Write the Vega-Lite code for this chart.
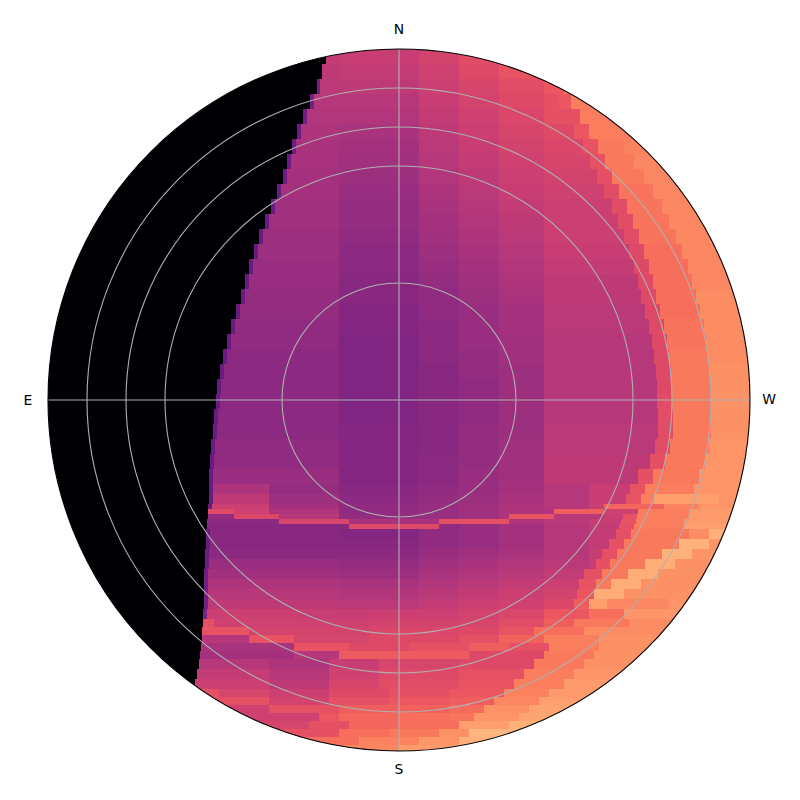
{"$schema":"https://vega.github.io/schema/vega-lite/v6.json","width":800,"height":800,"autosize":"none","padding":0,"background":"white","view":{"stroke":null},
"datasets":{"cells":[
{"y":351,"y2":336,"x":-101,"x2":-73,"v":0},{"y":351,"y2":336,"x":-73,"x2":-60,"v":53},{"y":351,"y2":336,"x":-60,"x2":20,"v":54},{"y":351,"y2":336,"x":20,"x2":60,"v":57},{"y":351,"y2":336,"x":60,"x2":101,"v":61},
{"y":336,"y2":321,"x":-142,"x2":-77,"v":0},{"y":336,"y2":321,"x":-77,"x2":-60,"v":52},{"y":336,"y2":321,"x":-60,"x2":20,"v":53},{"y":336,"y2":321,"x":20,"x2":60,"v":56},{"y":336,"y2":321,"x":60,"x2":100,"v":60},{"y":336,"y2":321,"x":100,"x2":142,"v":63},
{"y":321,"y2":306,"x":-172,"x2":-82,"v":0},{"y":321,"y2":306,"x":-82,"x2":-79,"v":34},{"y":321,"y2":306,"x":-79,"x2":-60,"v":51},{"y":321,"y2":306,"x":-60,"x2":20,"v":52},{"y":321,"y2":306,"x":20,"x2":60,"v":55},{"y":321,"y2":306,"x":60,"x2":100,"v":58},{"y":321,"y2":306,"x":100,"x2":145,"v":61},{"y":321,"y2":306,"x":145,"x2":165,"v":64},{"y":321,"y2":306,"x":165,"x2":172,"v":72},
{"y":306,"y2":291,"x":-196,"x2":-89,"v":0},{"y":306,"y2":291,"x":-89,"x2":-85,"v":33},{"y":306,"y2":291,"x":-85,"x2":-60,"v":50},{"y":306,"y2":291,"x":-60,"x2":20,"v":50},{"y":306,"y2":291,"x":20,"x2":60,"v":54},{"y":306,"y2":291,"x":60,"x2":100,"v":57},{"y":306,"y2":291,"x":100,"x2":145,"v":60},{"y":306,"y2":291,"x":145,"x2":160,"v":62},{"y":306,"y2":291,"x":160,"x2":172,"v":64},{"y":306,"y2":291,"x":172,"x2":196,"v":73},
{"y":291,"y2":276,"x":-217,"x2":-96,"v":0},{"y":291,"y2":276,"x":-96,"x2":-92,"v":33},{"y":291,"y2":276,"x":-92,"x2":-60,"v":49},{"y":291,"y2":276,"x":-60,"x2":20,"v":49},{"y":291,"y2":276,"x":20,"x2":60,"v":53},{"y":291,"y2":276,"x":60,"x2":100,"v":56},{"y":291,"y2":276,"x":100,"x2":145,"v":59},{"y":291,"y2":276,"x":145,"x2":181,"v":62},{"y":291,"y2":276,"x":181,"x2":217,"v":73},
{"y":276,"y2":261,"x":-235,"x2":-102,"v":0},{"y":276,"y2":261,"x":-102,"x2":-98,"v":32},{"y":276,"y2":261,"x":-98,"x2":-60,"v":48},{"y":276,"y2":261,"x":-60,"x2":20,"v":47},{"y":276,"y2":261,"x":20,"x2":60,"v":52},{"y":276,"y2":261,"x":60,"x2":100,"v":55},{"y":276,"y2":261,"x":100,"x2":145,"v":58},{"y":276,"y2":261,"x":145,"x2":175,"v":60},{"y":276,"y2":261,"x":175,"x2":190,"v":64},{"y":276,"y2":261,"x":190,"x2":235,"v":73},
{"y":261,"y2":246,"x":-250,"x2":-107,"v":0},{"y":261,"y2":246,"x":-107,"x2":-103,"v":32},{"y":261,"y2":246,"x":-103,"x2":-60,"v":47},{"y":261,"y2":246,"x":-60,"x2":20,"v":46},{"y":261,"y2":246,"x":20,"x2":60,"v":51},{"y":261,"y2":246,"x":60,"x2":100,"v":54},{"y":261,"y2":246,"x":100,"x2":145,"v":57},{"y":261,"y2":246,"x":145,"x2":184,"v":59},{"y":261,"y2":246,"x":184,"x2":199,"v":63},{"y":261,"y2":246,"x":199,"x2":225,"v":72},{"y":261,"y2":246,"x":225,"x2":250,"v":74},
{"y":246,"y2":231,"x":-264,"x2":-112,"v":0},{"y":246,"y2":231,"x":-112,"x2":-108,"v":32},{"y":246,"y2":231,"x":-108,"x2":-60,"v":47},{"y":246,"y2":231,"x":-60,"x2":20,"v":45},{"y":246,"y2":231,"x":20,"x2":60,"v":50},{"y":246,"y2":231,"x":60,"x2":100,"v":53},{"y":246,"y2":231,"x":100,"x2":145,"v":56},{"y":246,"y2":231,"x":145,"x2":191,"v":58},{"y":246,"y2":231,"x":191,"x2":206,"v":62},{"y":246,"y2":231,"x":206,"x2":235,"v":72},{"y":246,"y2":231,"x":235,"x2":264,"v":75},
{"y":231,"y2":216,"x":-277,"x2":-116,"v":0},{"y":231,"y2":216,"x":-116,"x2":-112,"v":32},{"y":231,"y2":216,"x":-112,"x2":-60,"v":46},{"y":231,"y2":216,"x":-60,"x2":20,"v":44},{"y":231,"y2":216,"x":20,"x2":60,"v":49},{"y":231,"y2":216,"x":60,"x2":100,"v":52},{"y":231,"y2":216,"x":100,"x2":145,"v":55},{"y":231,"y2":216,"x":145,"x2":198,"v":57},{"y":231,"y2":216,"x":198,"x2":213,"v":62},{"y":231,"y2":216,"x":213,"x2":245,"v":72},{"y":231,"y2":216,"x":245,"x2":277,"v":75},
{"y":216,"y2":201,"x":-288,"x2":-122,"v":0},{"y":216,"y2":201,"x":-122,"x2":-118,"v":31},{"y":216,"y2":201,"x":-118,"x2":-60,"v":46},{"y":216,"y2":201,"x":-60,"x2":20,"v":43},{"y":216,"y2":201,"x":20,"x2":60,"v":48},{"y":216,"y2":201,"x":60,"x2":100,"v":51},{"y":216,"y2":201,"x":100,"x2":145,"v":54},{"y":216,"y2":201,"x":145,"x2":205,"v":56},{"y":216,"y2":201,"x":205,"x2":220,"v":61},{"y":216,"y2":201,"x":220,"x2":254,"v":71},{"y":216,"y2":201,"x":254,"x2":288,"v":75},
{"y":201,"y2":186,"x":-298,"x2":-128,"v":0},{"y":201,"y2":186,"x":-128,"x2":-124,"v":31},{"y":201,"y2":186,"x":-124,"x2":-60,"v":45},{"y":201,"y2":186,"x":-60,"x2":20,"v":42},{"y":201,"y2":186,"x":20,"x2":60,"v":47},{"y":201,"y2":186,"x":60,"x2":100,"v":50},{"y":201,"y2":186,"x":100,"x2":145,"v":53},{"y":201,"y2":186,"x":145,"x2":213,"v":55},{"y":201,"y2":186,"x":213,"x2":228,"v":61},{"y":201,"y2":186,"x":228,"x2":263,"v":71},{"y":201,"y2":186,"x":263,"x2":298,"v":75},
{"y":186,"y2":171,"x":-307,"x2":-134,"v":0},{"y":186,"y2":171,"x":-134,"x2":-130,"v":31},{"y":186,"y2":171,"x":-130,"x2":-60,"v":45},{"y":186,"y2":171,"x":-60,"x2":20,"v":42},{"y":186,"y2":171,"x":20,"x2":60,"v":46},{"y":186,"y2":171,"x":60,"x2":100,"v":49},{"y":186,"y2":171,"x":100,"x2":145,"v":52},{"y":186,"y2":171,"x":145,"x2":219,"v":55},{"y":186,"y2":171,"x":219,"x2":234,"v":61},{"y":186,"y2":171,"x":234,"x2":270,"v":71},{"y":186,"y2":171,"x":270,"x2":307,"v":75},
{"y":171,"y2":156,"x":-315,"x2":-140,"v":0},{"y":171,"y2":156,"x":-140,"x2":-136,"v":31},{"y":171,"y2":156,"x":-136,"x2":-60,"v":44},{"y":171,"y2":156,"x":-60,"x2":20,"v":41},{"y":171,"y2":156,"x":20,"x2":60,"v":45},{"y":171,"y2":156,"x":60,"x2":100,"v":48},{"y":171,"y2":156,"x":100,"x2":145,"v":51},{"y":171,"y2":156,"x":145,"x2":225,"v":55},{"y":171,"y2":156,"x":225,"x2":240,"v":61},{"y":171,"y2":156,"x":240,"x2":277,"v":71},{"y":171,"y2":156,"x":277,"x2":315,"v":75},
{"y":156,"y2":141,"x":-322,"x2":-145,"v":0},{"y":156,"y2":141,"x":-145,"x2":-141,"v":31},{"y":156,"y2":141,"x":-141,"x2":-60,"v":44},{"y":156,"y2":141,"x":-60,"x2":20,"v":40},{"y":156,"y2":141,"x":20,"x2":60,"v":44},{"y":156,"y2":141,"x":60,"x2":100,"v":47},{"y":156,"y2":141,"x":100,"x2":145,"v":50},{"y":156,"y2":141,"x":145,"x2":230,"v":54},{"y":156,"y2":141,"x":230,"x2":245,"v":60},{"y":156,"y2":141,"x":245,"x2":283,"v":70},{"y":156,"y2":141,"x":283,"x2":322,"v":75},
{"y":141,"y2":126,"x":-328,"x2":-150,"v":0},{"y":141,"y2":126,"x":-150,"x2":-146,"v":31},{"y":141,"y2":126,"x":-146,"x2":-60,"v":43},{"y":141,"y2":126,"x":-60,"x2":20,"v":40},{"y":141,"y2":126,"x":20,"x2":60,"v":43},{"y":141,"y2":126,"x":60,"x2":100,"v":46},{"y":141,"y2":126,"x":100,"x2":145,"v":49},{"y":141,"y2":126,"x":145,"x2":235,"v":53},{"y":141,"y2":126,"x":235,"x2":250,"v":60},{"y":141,"y2":126,"x":250,"x2":289,"v":70},{"y":141,"y2":126,"x":289,"x2":328,"v":75},
{"y":126,"y2":111,"x":-333,"x2":-154,"v":0},{"y":126,"y2":111,"x":-154,"x2":-150,"v":31},{"y":126,"y2":111,"x":-150,"x2":-60,"v":43},{"y":126,"y2":111,"x":-60,"x2":20,"v":39},{"y":126,"y2":111,"x":20,"x2":60,"v":42},{"y":126,"y2":111,"x":60,"x2":100,"v":45},{"y":126,"y2":111,"x":100,"x2":145,"v":48},{"y":126,"y2":111,"x":145,"x2":239,"v":52},{"y":126,"y2":111,"x":239,"x2":254,"v":60},{"y":126,"y2":111,"x":254,"x2":293,"v":70},{"y":126,"y2":111,"x":293,"x2":333,"v":75},
{"y":111,"y2":96,"x":-338,"x2":-158,"v":0},{"y":111,"y2":96,"x":-158,"x2":-154,"v":31},{"y":111,"y2":96,"x":-154,"x2":-60,"v":42},{"y":111,"y2":96,"x":-60,"x2":20,"v":39},{"y":111,"y2":96,"x":20,"x2":60,"v":41},{"y":111,"y2":96,"x":60,"x2":100,"v":44},{"y":111,"y2":96,"x":100,"x2":145,"v":47},{"y":111,"y2":96,"x":145,"x2":242,"v":52},{"y":111,"y2":96,"x":242,"x2":257,"v":60},{"y":111,"y2":96,"x":257,"x2":297,"v":70},{"y":111,"y2":96,"x":297,"x2":338,"v":76},
{"y":96,"y2":81,"x":-342,"x2":-163,"v":0},{"y":96,"y2":81,"x":-163,"x2":-159,"v":31},{"y":96,"y2":81,"x":-159,"x2":-60,"v":42},{"y":96,"y2":81,"x":-60,"x2":20,"v":38},{"y":96,"y2":81,"x":20,"x2":60,"v":41},{"y":96,"y2":81,"x":60,"x2":100,"v":43},{"y":96,"y2":81,"x":100,"x2":145,"v":46},{"y":96,"y2":81,"x":145,"x2":246,"v":51},{"y":96,"y2":81,"x":246,"x2":261,"v":60},{"y":96,"y2":81,"x":261,"x2":301,"v":70},{"y":96,"y2":81,"x":301,"x2":342,"v":76},
{"y":81,"y2":66,"x":-345,"x2":-168,"v":0},{"y":81,"y2":66,"x":-168,"x2":-164,"v":31},{"y":81,"y2":66,"x":-164,"x2":-60,"v":41},{"y":81,"y2":66,"x":-60,"x2":20,"v":38},{"y":81,"y2":66,"x":20,"x2":60,"v":40},{"y":81,"y2":66,"x":60,"x2":100,"v":43},{"y":81,"y2":66,"x":100,"x2":145,"v":46},{"y":81,"y2":66,"x":145,"x2":250,"v":51},{"y":81,"y2":66,"x":250,"x2":265,"v":60},{"y":81,"y2":66,"x":265,"x2":305,"v":71},{"y":81,"y2":66,"x":305,"x2":345,"v":76},
{"y":66,"y2":51,"x":-347,"x2":-172,"v":0},{"y":66,"y2":51,"x":-172,"x2":-168,"v":31},{"y":66,"y2":51,"x":-168,"x2":-60,"v":41},{"y":66,"y2":51,"x":-60,"x2":20,"v":37},{"y":66,"y2":51,"x":20,"x2":60,"v":40},{"y":66,"y2":51,"x":60,"x2":100,"v":43},{"y":66,"y2":51,"x":100,"x2":145,"v":45},{"y":66,"y2":51,"x":145,"x2":253,"v":50},{"y":66,"y2":51,"x":253,"x2":268,"v":60},{"y":66,"y2":51,"x":268,"x2":307,"v":71},{"y":66,"y2":51,"x":307,"x2":347,"v":76},
{"y":51,"y2":36,"x":-349,"x2":-176,"v":0},{"y":51,"y2":36,"x":-176,"x2":-172,"v":31},{"y":51,"y2":36,"x":-172,"x2":-60,"v":40},{"y":51,"y2":36,"x":-60,"x2":20,"v":37},{"y":51,"y2":36,"x":20,"x2":60,"v":40},{"y":51,"y2":36,"x":60,"x2":100,"v":42},{"y":51,"y2":36,"x":100,"x2":145,"v":45},{"y":51,"y2":36,"x":145,"x2":255,"v":50},{"y":51,"y2":36,"x":255,"x2":270,"v":60},{"y":51,"y2":36,"x":270,"x2":309,"v":72},{"y":51,"y2":36,"x":309,"x2":349,"v":76},
{"y":36,"y2":21,"x":-351,"x2":-179,"v":0},{"y":36,"y2":21,"x":-179,"x2":-175,"v":31},{"y":36,"y2":21,"x":-175,"x2":-60,"v":40},{"y":36,"y2":21,"x":-60,"x2":20,"v":37},{"y":36,"y2":21,"x":20,"x2":60,"v":39},{"y":36,"y2":21,"x":60,"x2":100,"v":42},{"y":36,"y2":21,"x":100,"x2":145,"v":44},{"y":36,"y2":21,"x":145,"x2":257,"v":50},{"y":36,"y2":21,"x":257,"x2":272,"v":60},{"y":36,"y2":21,"x":272,"x2":311,"v":72},{"y":36,"y2":21,"x":311,"x2":351,"v":77},
{"y":21,"y2":6,"x":-351,"x2":-182,"v":0},{"y":21,"y2":6,"x":-182,"x2":-178,"v":31},{"y":21,"y2":6,"x":-178,"x2":-60,"v":40},{"y":21,"y2":6,"x":-60,"x2":20,"v":37},{"y":21,"y2":6,"x":20,"x2":60,"v":39},{"y":21,"y2":6,"x":60,"x2":100,"v":41},{"y":21,"y2":6,"x":100,"x2":145,"v":44},{"y":21,"y2":6,"x":145,"x2":258,"v":50},{"y":21,"y2":6,"x":258,"x2":273,"v":60},{"y":21,"y2":6,"x":273,"x2":312,"v":72},{"y":21,"y2":6,"x":312,"x2":351,"v":77},
{"y":6,"y2":-9,"x":-351,"x2":-183,"v":0},{"y":6,"y2":-9,"x":-183,"x2":-179,"v":31},{"y":6,"y2":-9,"x":-179,"x2":-60,"v":40},{"y":6,"y2":-9,"x":-60,"x2":20,"v":37},{"y":6,"y2":-9,"x":20,"x2":60,"v":39},{"y":6,"y2":-9,"x":60,"x2":100,"v":41},{"y":6,"y2":-9,"x":100,"x2":145,"v":44},{"y":6,"y2":-9,"x":145,"x2":258,"v":50},{"y":6,"y2":-9,"x":258,"x2":273,"v":61},{"y":6,"y2":-9,"x":273,"x2":312,"v":72},{"y":6,"y2":-9,"x":312,"x2":351,"v":77},
{"y":-9,"y2":-24,"x":-351,"x2":-185,"v":0},{"y":-9,"y2":-24,"x":-185,"x2":-181,"v":31},{"y":-9,"y2":-24,"x":-181,"x2":-60,"v":40},{"y":-9,"y2":-24,"x":-60,"x2":20,"v":37},{"y":-9,"y2":-24,"x":20,"x2":60,"v":39},{"y":-9,"y2":-24,"x":60,"x2":100,"v":41},{"y":-9,"y2":-24,"x":100,"x2":145,"v":44},{"y":-9,"y2":-24,"x":145,"x2":259,"v":50},{"y":-9,"y2":-24,"x":259,"x2":274,"v":61},{"y":-9,"y2":-24,"x":274,"x2":312,"v":72},{"y":-9,"y2":-24,"x":312,"x2":351,"v":77},
{"y":-24,"y2":-39,"x":-350,"x2":-186,"v":0},{"y":-24,"y2":-39,"x":-186,"x2":-182,"v":31},{"y":-24,"y2":-39,"x":-182,"x2":-60,"v":40},{"y":-24,"y2":-39,"x":-60,"x2":20,"v":38},{"y":-24,"y2":-39,"x":20,"x2":60,"v":39},{"y":-24,"y2":-39,"x":60,"x2":100,"v":42},{"y":-24,"y2":-39,"x":100,"x2":145,"v":44},{"y":-24,"y2":-39,"x":145,"x2":259,"v":51},{"y":-24,"y2":-39,"x":259,"x2":274,"v":61},{"y":-24,"y2":-39,"x":274,"x2":312,"v":72},{"y":-24,"y2":-39,"x":312,"x2":350,"v":77},
{"y":-39,"y2":-54,"x":-349,"x2":-188,"v":0},{"y":-39,"y2":-54,"x":-188,"x2":-184,"v":31},{"y":-39,"y2":-54,"x":-184,"x2":-60,"v":41},{"y":-39,"y2":-54,"x":-60,"x2":20,"v":38},{"y":-39,"y2":-54,"x":20,"x2":60,"v":39},{"y":-39,"y2":-54,"x":60,"x2":100,"v":42},{"y":-39,"y2":-54,"x":100,"x2":145,"v":45},{"y":-39,"y2":-54,"x":145,"x2":256,"v":51},{"y":-39,"y2":-54,"x":256,"x2":271,"v":61},{"y":-39,"y2":-54,"x":271,"x2":310,"v":72},{"y":-39,"y2":-54,"x":310,"x2":349,"v":78},
{"y":-54,"y2":-69,"x":-347,"x2":-189,"v":0},{"y":-54,"y2":-69,"x":-189,"x2":-185,"v":31},{"y":-54,"y2":-69,"x":-185,"x2":-60,"v":41},{"y":-54,"y2":-69,"x":-60,"x2":20,"v":38},{"y":-54,"y2":-69,"x":20,"x2":60,"v":40},{"y":-54,"y2":-69,"x":60,"x2":100,"v":42},{"y":-54,"y2":-69,"x":100,"x2":145,"v":45},{"y":-54,"y2":-69,"x":145,"x2":251,"v":52},{"y":-54,"y2":-69,"x":251,"x2":266,"v":62},{"y":-54,"y2":-69,"x":266,"x2":306,"v":72},{"y":-54,"y2":-69,"x":306,"x2":347,"v":78},
{"y":-69,"y2":-84,"x":-345,"x2":-190,"v":0},{"y":-69,"y2":-84,"x":-190,"x2":-186,"v":31},{"y":-69,"y2":-84,"x":-186,"x2":-60,"v":43},{"y":-69,"y2":-84,"x":-60,"x2":20,"v":38},{"y":-69,"y2":-84,"x":20,"x2":60,"v":40},{"y":-69,"y2":-84,"x":60,"x2":100,"v":43},{"y":-69,"y2":-84,"x":100,"x2":145,"v":45},{"y":-69,"y2":-84,"x":145,"x2":239,"v":52},{"y":-69,"y2":-84,"x":239,"x2":254,"v":62},{"y":-69,"y2":-84,"x":254,"x2":300,"v":72},{"y":-69,"y2":-84,"x":300,"x2":345,"v":78},
{"y":-84,"y2":-94,"x":-341,"x2":-190,"v":0},{"y":-84,"y2":-94,"x":-190,"x2":-186,"v":31},{"y":-84,"y2":-94,"x":-186,"x2":-130,"v":48},{"y":-84,"y2":-94,"x":-130,"x2":-60,"v":42},{"y":-84,"y2":-94,"x":-60,"x2":20,"v":39},{"y":-84,"y2":-94,"x":20,"x2":60,"v":41},{"y":-84,"y2":-94,"x":60,"x2":100,"v":43},{"y":-84,"y2":-94,"x":100,"x2":145,"v":46},{"y":-84,"y2":-94,"x":145,"x2":190,"v":50},{"y":-84,"y2":-94,"x":190,"x2":231,"v":54},{"y":-84,"y2":-94,"x":231,"x2":246,"v":63},{"y":-84,"y2":-94,"x":246,"x2":295,"v":73},{"y":-84,"y2":-94,"x":295,"x2":341,"v":78},
{"y":-94,"y2":-104,"x":-338,"x2":-190,"v":0},{"y":-94,"y2":-104,"x":-190,"x2":-186,"v":31},{"y":-94,"y2":-104,"x":-186,"x2":-130,"v":52},{"y":-94,"y2":-104,"x":-130,"x2":-60,"v":44},{"y":-94,"y2":-104,"x":-60,"x2":20,"v":40},{"y":-94,"y2":-104,"x":20,"x2":60,"v":42},{"y":-94,"y2":-104,"x":60,"x2":100,"v":44},{"y":-94,"y2":-104,"x":100,"x2":145,"v":47},{"y":-94,"y2":-104,"x":145,"x2":190,"v":50},{"y":-94,"y2":-104,"x":190,"x2":227,"v":54},{"y":-94,"y2":-104,"x":227,"x2":242,"v":63},{"y":-94,"y2":-104,"x":242,"x2":255,"v":73},{"y":-94,"y2":-104,"x":255,"x2":320,"v":80},{"y":-94,"y2":-104,"x":320,"x2":338,"v":78},
{"y":-104,"y2":-109,"x":-335,"x2":-191,"v":0},{"y":-104,"y2":-109,"x":-191,"x2":-187,"v":31},{"y":-104,"y2":-109,"x":-187,"x2":-130,"v":55},{"y":-104,"y2":-109,"x":-130,"x2":-60,"v":46},{"y":-104,"y2":-109,"x":-60,"x2":20,"v":41},{"y":-104,"y2":-109,"x":20,"x2":60,"v":43},{"y":-104,"y2":-109,"x":60,"x2":100,"v":45},{"y":-104,"y2":-109,"x":100,"x2":145,"v":48},{"y":-104,"y2":-109,"x":145,"x2":190,"v":50},{"y":-104,"y2":-109,"x":190,"x2":205,"v":55},{"y":-104,"y2":-109,"x":205,"x2":265,"v":68},{"y":-104,"y2":-109,"x":265,"x2":300,"v":74},{"y":-104,"y2":-109,"x":300,"x2":335,"v":78},
{"y":-109,"y2":-114,"x":-333,"x2":-191,"v":0},{"y":-109,"y2":-114,"x":-191,"x2":-165,"v":60},{"y":-109,"y2":-114,"x":-165,"x2":-130,"v":56},{"y":-109,"y2":-114,"x":-130,"x2":-60,"v":48},{"y":-109,"y2":-114,"x":-60,"x2":20,"v":41},{"y":-109,"y2":-114,"x":20,"x2":60,"v":43},{"y":-109,"y2":-114,"x":60,"x2":100,"v":45},{"y":-109,"y2":-114,"x":100,"x2":155,"v":48},{"y":-109,"y2":-114,"x":155,"x2":205,"v":66},{"y":-109,"y2":-114,"x":205,"x2":239,"v":56},{"y":-109,"y2":-114,"x":239,"x2":290,"v":73},{"y":-109,"y2":-114,"x":290,"x2":333,"v":79},
{"y":-114,"y2":-119,"x":-332,"x2":-191,"v":0},{"y":-114,"y2":-119,"x":-191,"x2":-165,"v":42},{"y":-114,"y2":-119,"x":-165,"x2":-120,"v":59},{"y":-114,"y2":-119,"x":-120,"x2":-60,"v":50},{"y":-114,"y2":-119,"x":-60,"x2":20,"v":42},{"y":-114,"y2":-119,"x":20,"x2":60,"v":43},{"y":-114,"y2":-119,"x":60,"x2":100,"v":45},{"y":-114,"y2":-119,"x":100,"x2":110,"v":48},{"y":-114,"y2":-119,"x":110,"x2":155,"v":63},{"y":-114,"y2":-119,"x":155,"x2":205,"v":51},{"y":-114,"y2":-119,"x":205,"x2":224,"v":55},{"y":-114,"y2":-119,"x":224,"x2":238,"v":63},{"y":-114,"y2":-119,"x":238,"x2":290,"v":73},{"y":-114,"y2":-119,"x":290,"x2":332,"v":79},
{"y":-119,"y2":-124,"x":-330,"x2":-192,"v":0},{"y":-119,"y2":-124,"x":-192,"x2":-120,"v":40},{"y":-119,"y2":-124,"x":-120,"x2":-50,"v":58},{"y":-119,"y2":-124,"x":-50,"x2":40,"v":47},{"y":-119,"y2":-124,"x":40,"x2":110,"v":62},{"y":-119,"y2":-124,"x":110,"x2":145,"v":48},{"y":-119,"y2":-124,"x":145,"x2":190,"v":51},{"y":-119,"y2":-124,"x":190,"x2":222,"v":54},{"y":-119,"y2":-124,"x":222,"x2":237,"v":63},{"y":-119,"y2":-124,"x":237,"x2":285,"v":73},{"y":-119,"y2":-124,"x":285,"x2":330,"v":79},
{"y":-124,"y2":-129,"x":-328,"x2":-192,"v":0},{"y":-124,"y2":-129,"x":-192,"x2":-50,"v":39},{"y":-124,"y2":-129,"x":-50,"x2":40,"v":60},{"y":-124,"y2":-129,"x":40,"x2":60,"v":41},{"y":-124,"y2":-129,"x":60,"x2":100,"v":43},{"y":-124,"y2":-129,"x":100,"x2":145,"v":46},{"y":-124,"y2":-129,"x":145,"x2":190,"v":50},{"y":-124,"y2":-129,"x":190,"x2":220,"v":53},{"y":-124,"y2":-129,"x":220,"x2":235,"v":62},{"y":-124,"y2":-129,"x":235,"x2":285,"v":73},{"y":-124,"y2":-129,"x":285,"x2":328,"v":80},
{"y":-129,"y2":-139,"x":-326,"x2":-193,"v":0},{"y":-129,"y2":-139,"x":-193,"x2":-189,"v":31},{"y":-129,"y2":-139,"x":-189,"x2":-60,"v":39},{"y":-129,"y2":-139,"x":-60,"x2":20,"v":38},{"y":-129,"y2":-139,"x":20,"x2":60,"v":41},{"y":-129,"y2":-139,"x":60,"x2":100,"v":43},{"y":-129,"y2":-139,"x":100,"x2":145,"v":46},{"y":-129,"y2":-139,"x":145,"x2":190,"v":50},{"y":-129,"y2":-139,"x":190,"x2":217,"v":53},{"y":-129,"y2":-139,"x":217,"x2":232,"v":62},{"y":-129,"y2":-139,"x":232,"x2":290,"v":72},{"y":-129,"y2":-139,"x":290,"x2":310,"v":76},{"y":-129,"y2":-139,"x":310,"x2":326,"v":84},
{"y":-139,"y2":-149,"x":-322,"x2":-193,"v":0},{"y":-139,"y2":-149,"x":-193,"x2":-189,"v":31},{"y":-139,"y2":-149,"x":-189,"x2":-60,"v":39},{"y":-139,"y2":-149,"x":-60,"x2":20,"v":39},{"y":-139,"y2":-149,"x":20,"x2":60,"v":41},{"y":-139,"y2":-149,"x":60,"x2":100,"v":43},{"y":-139,"y2":-149,"x":100,"x2":145,"v":46},{"y":-139,"y2":-149,"x":145,"x2":190,"v":50},{"y":-139,"y2":-149,"x":190,"x2":210,"v":53},{"y":-139,"y2":-149,"x":210,"x2":225,"v":62},{"y":-139,"y2":-149,"x":225,"x2":280,"v":72},{"y":-139,"y2":-149,"x":280,"x2":310,"v":84},{"y":-139,"y2":-149,"x":310,"x2":322,"v":78},
{"y":-149,"y2":-159,"x":-317,"x2":-194,"v":0},{"y":-149,"y2":-159,"x":-194,"x2":-190,"v":32},{"y":-149,"y2":-159,"x":-190,"x2":-60,"v":40},{"y":-149,"y2":-159,"x":-60,"x2":20,"v":40},{"y":-149,"y2":-159,"x":20,"x2":60,"v":43},{"y":-149,"y2":-159,"x":60,"x2":100,"v":45},{"y":-149,"y2":-159,"x":100,"x2":145,"v":47},{"y":-149,"y2":-159,"x":145,"x2":190,"v":50},{"y":-149,"y2":-159,"x":190,"x2":203,"v":54},{"y":-149,"y2":-159,"x":203,"x2":218,"v":62},{"y":-149,"y2":-159,"x":218,"x2":263,"v":72},{"y":-149,"y2":-159,"x":263,"x2":293,"v":84},{"y":-149,"y2":-159,"x":293,"x2":317,"v":78},
{"y":-159,"y2":-169,"x":-313,"x2":-194,"v":0},{"y":-159,"y2":-169,"x":-194,"x2":-190,"v":32},{"y":-159,"y2":-169,"x":-190,"x2":-60,"v":43},{"y":-159,"y2":-169,"x":-60,"x2":20,"v":42},{"y":-159,"y2":-169,"x":20,"x2":60,"v":45},{"y":-159,"y2":-169,"x":60,"x2":100,"v":47},{"y":-159,"y2":-169,"x":100,"x2":145,"v":49},{"y":-159,"y2":-169,"x":145,"x2":190,"v":51},{"y":-159,"y2":-169,"x":190,"x2":197,"v":54},{"y":-159,"y2":-169,"x":197,"x2":211,"v":62},{"y":-159,"y2":-169,"x":211,"x2":246,"v":72},{"y":-159,"y2":-169,"x":246,"x2":276,"v":83},{"y":-159,"y2":-169,"x":276,"x2":313,"v":77},
{"y":-169,"y2":-179,"x":-307,"x2":-195,"v":0},{"y":-169,"y2":-179,"x":-195,"x2":-191,"v":33},{"y":-169,"y2":-179,"x":-191,"x2":-60,"v":45},{"y":-169,"y2":-179,"x":-60,"x2":20,"v":44},{"y":-169,"y2":-179,"x":20,"x2":60,"v":47},{"y":-169,"y2":-179,"x":60,"x2":100,"v":49},{"y":-169,"y2":-179,"x":100,"x2":145,"v":51},{"y":-169,"y2":-179,"x":145,"x2":185,"v":53},{"y":-169,"y2":-179,"x":185,"x2":203,"v":62},{"y":-169,"y2":-179,"x":203,"x2":229,"v":72},{"y":-169,"y2":-179,"x":229,"x2":259,"v":83},{"y":-169,"y2":-179,"x":259,"x2":307,"v":77},
{"y":-179,"y2":-189,"x":-302,"x2":-195,"v":0},{"y":-179,"y2":-189,"x":-195,"x2":-191,"v":33},{"y":-179,"y2":-189,"x":-191,"x2":-60,"v":48},{"y":-179,"y2":-189,"x":-60,"x2":20,"v":47},{"y":-179,"y2":-189,"x":20,"x2":60,"v":49},{"y":-179,"y2":-189,"x":60,"x2":100,"v":51},{"y":-179,"y2":-189,"x":100,"x2":145,"v":53},{"y":-179,"y2":-189,"x":145,"x2":180,"v":55},{"y":-179,"y2":-189,"x":180,"x2":197,"v":63},{"y":-179,"y2":-189,"x":197,"x2":212,"v":72},{"y":-179,"y2":-189,"x":212,"x2":242,"v":83},{"y":-179,"y2":-189,"x":242,"x2":302,"v":77},
{"y":-189,"y2":-199,"x":-295,"x2":-195,"v":0},{"y":-189,"y2":-199,"x":-195,"x2":-191,"v":34},{"y":-189,"y2":-199,"x":-191,"x2":-60,"v":50},{"y":-189,"y2":-199,"x":-60,"x2":20,"v":49},{"y":-189,"y2":-199,"x":20,"x2":60,"v":51},{"y":-189,"y2":-199,"x":60,"x2":100,"v":53},{"y":-189,"y2":-199,"x":100,"x2":145,"v":55},{"y":-189,"y2":-199,"x":145,"x2":178,"v":57},{"y":-189,"y2":-199,"x":178,"x2":195,"v":64},{"y":-189,"y2":-199,"x":195,"x2":225,"v":83},{"y":-189,"y2":-199,"x":225,"x2":295,"v":77},
{"y":-199,"y2":-209,"x":-289,"x2":-195,"v":0},{"y":-199,"y2":-209,"x":-195,"x2":-191,"v":34},{"y":-199,"y2":-209,"x":-191,"x2":-60,"v":52},{"y":-199,"y2":-209,"x":-60,"x2":20,"v":51},{"y":-199,"y2":-209,"x":20,"x2":60,"v":53},{"y":-199,"y2":-209,"x":60,"x2":100,"v":55},{"y":-199,"y2":-209,"x":100,"x2":145,"v":56},{"y":-199,"y2":-209,"x":145,"x2":175,"v":59},{"y":-199,"y2":-209,"x":175,"x2":190,"v":66},{"y":-199,"y2":-209,"x":190,"x2":208,"v":80},{"y":-199,"y2":-209,"x":208,"x2":270,"v":75},{"y":-199,"y2":-209,"x":270,"x2":289,"v":78},
{"y":-209,"y2":-219,"x":-282,"x2":-196,"v":0},{"y":-209,"y2":-219,"x":-196,"x2":-192,"v":35},{"y":-209,"y2":-219,"x":-192,"x2":-100,"v":55},{"y":-209,"y2":-219,"x":-100,"x2":-30,"v":54},{"y":-209,"y2":-219,"x":-30,"x2":60,"v":55},{"y":-209,"y2":-219,"x":60,"x2":100,"v":57},{"y":-209,"y2":-219,"x":100,"x2":145,"v":59},{"y":-209,"y2":-219,"x":145,"x2":190,"v":64},{"y":-209,"y2":-219,"x":190,"x2":225,"v":70},{"y":-209,"y2":-219,"x":225,"x2":282,"v":78},
{"y":-219,"y2":-227,"x":-274,"x2":-196,"v":0},{"y":-219,"y2":-227,"x":-196,"x2":-185,"v":62},{"y":-219,"y2":-227,"x":-185,"x2":-100,"v":56},{"y":-219,"y2":-227,"x":-100,"x2":-30,"v":56},{"y":-219,"y2":-227,"x":-30,"x2":60,"v":57},{"y":-219,"y2":-227,"x":60,"x2":100,"v":58},{"y":-219,"y2":-227,"x":100,"x2":145,"v":61},{"y":-219,"y2":-227,"x":145,"x2":175,"v":66},{"y":-219,"y2":-227,"x":175,"x2":230,"v":72},{"y":-219,"y2":-227,"x":230,"x2":274,"v":76},
{"y":-227,"y2":-235,"x":-267,"x2":-197,"v":0},{"y":-227,"y2":-235,"x":-197,"x2":-150,"v":63},{"y":-227,"y2":-235,"x":-150,"x2":-100,"v":57},{"y":-227,"y2":-235,"x":-100,"x2":-30,"v":57},{"y":-227,"y2":-235,"x":-30,"x2":60,"v":59},{"y":-227,"y2":-235,"x":60,"x2":100,"v":60},{"y":-227,"y2":-235,"x":100,"x2":135,"v":63},{"y":-227,"y2":-235,"x":135,"x2":185,"v":70},{"y":-227,"y2":-235,"x":185,"x2":267,"v":76},
{"y":-235,"y2":-243,"x":-260,"x2":-197,"v":0},{"y":-235,"y2":-243,"x":-197,"x2":-150,"v":50},{"y":-235,"y2":-243,"x":-150,"x2":-105,"v":63},{"y":-235,"y2":-243,"x":-105,"x2":-30,"v":58},{"y":-235,"y2":-243,"x":-30,"x2":60,"v":60},{"y":-235,"y2":-243,"x":60,"x2":100,"v":62},{"y":-235,"y2":-243,"x":100,"x2":145,"v":67},{"y":-235,"y2":-243,"x":145,"x2":200,"v":73},{"y":-235,"y2":-243,"x":200,"x2":260,"v":77},
{"y":-243,"y2":-251,"x":-253,"x2":-198,"v":0},{"y":-243,"y2":-251,"x":-198,"x2":-105,"v":47},{"y":-243,"y2":-251,"x":-105,"x2":-50,"v":63},{"y":-243,"y2":-251,"x":-50,"x2":10,"v":60},{"y":-243,"y2":-251,"x":10,"x2":70,"v":62},{"y":-243,"y2":-251,"x":70,"x2":110,"v":66},{"y":-243,"y2":-251,"x":110,"x2":150,"v":62},{"y":-243,"y2":-251,"x":150,"x2":200,"v":73},{"y":-243,"y2":-251,"x":200,"x2":253,"v":77},
{"y":-251,"y2":-259,"x":-244,"x2":-199,"v":0},{"y":-251,"y2":-259,"x":-199,"x2":-105,"v":46},{"y":-251,"y2":-259,"x":-105,"x2":-60,"v":50},{"y":-251,"y2":-259,"x":-60,"x2":70,"v":65},{"y":-251,"y2":-259,"x":70,"x2":145,"v":60},{"y":-251,"y2":-259,"x":145,"x2":195,"v":72},{"y":-251,"y2":-259,"x":195,"x2":244,"v":77},
{"y":-259,"y2":-269,"x":-236,"x2":-200,"v":0},{"y":-259,"y2":-269,"x":-200,"x2":-130,"v":50},{"y":-259,"y2":-269,"x":-130,"x2":-70,"v":48},{"y":-259,"y2":-269,"x":-70,"x2":-20,"v":54},{"y":-259,"y2":-269,"x":-20,"x2":60,"v":58},{"y":-259,"y2":-269,"x":60,"x2":135,"v":60},{"y":-259,"y2":-269,"x":135,"x2":185,"v":72},{"y":-259,"y2":-269,"x":185,"x2":236,"v":77},
{"y":-269,"y2":-279,"x":-224,"x2":-202,"v":0},{"y":-269,"y2":-279,"x":-202,"x2":-130,"v":53},{"y":-269,"y2":-279,"x":-130,"x2":-70,"v":50},{"y":-269,"y2":-279,"x":-70,"x2":-20,"v":56},{"y":-269,"y2":-279,"x":-20,"x2":60,"v":60},{"y":-269,"y2":-279,"x":60,"x2":125,"v":62},{"y":-269,"y2":-279,"x":125,"x2":175,"v":73},{"y":-269,"y2":-279,"x":175,"x2":224,"v":78},
{"y":-279,"y2":-289,"x":-212,"x2":-204,"v":0},{"y":-279,"y2":-289,"x":-204,"x2":-130,"v":55},{"y":-279,"y2":-289,"x":-130,"x2":-70,"v":52},{"y":-279,"y2":-289,"x":-70,"x2":-20,"v":58},{"y":-279,"y2":-289,"x":-20,"x2":60,"v":61},{"y":-279,"y2":-289,"x":60,"x2":115,"v":63},{"y":-279,"y2":-289,"x":115,"x2":165,"v":73},{"y":-279,"y2":-289,"x":165,"x2":212,"v":79},
{"y":-289,"y2":-297,"x":-199,"x2":-180,"v":62},{"y":-289,"y2":-297,"x":-180,"x2":-130,"v":58},{"y":-289,"y2":-297,"x":-130,"x2":-70,"v":55},{"y":-289,"y2":-297,"x":-70,"x2":-10,"v":60},{"y":-289,"y2":-297,"x":-10,"x2":50,"v":62},{"y":-289,"y2":-297,"x":50,"x2":105,"v":64},{"y":-289,"y2":-297,"x":105,"x2":150,"v":74},{"y":-289,"y2":-297,"x":150,"x2":199,"v":79},
{"y":-297,"y2":-305,"x":-187,"x2":-130,"v":62},{"y":-297,"y2":-305,"x":-130,"x2":-70,"v":57},{"y":-297,"y2":-305,"x":-70,"x2":-10,"v":62},{"y":-297,"y2":-305,"x":-10,"x2":50,"v":64},{"y":-297,"y2":-305,"x":50,"x2":95,"v":66},{"y":-297,"y2":-305,"x":95,"x2":140,"v":75},{"y":-297,"y2":-305,"x":140,"x2":187,"v":80},
{"y":-305,"y2":-313,"x":-174,"x2":-130,"v":56},{"y":-305,"y2":-313,"x":-130,"x2":-60,"v":62},{"y":-305,"y2":-313,"x":-60,"x2":0,"v":66},{"y":-305,"y2":-313,"x":0,"x2":50,"v":67},{"y":-305,"y2":-313,"x":50,"x2":85,"v":69},{"y":-305,"y2":-313,"x":85,"x2":130,"v":77},{"y":-305,"y2":-313,"x":130,"x2":174,"v":81},
{"y":-313,"y2":-321,"x":-159,"x2":-80,"v":56},{"y":-313,"y2":-321,"x":-80,"x2":-60,"v":64},{"y":-313,"y2":-321,"x":-60,"x2":0,"v":68},{"y":-313,"y2":-321,"x":0,"x2":50,"v":70},{"y":-313,"y2":-321,"x":50,"x2":75,"v":71},{"y":-313,"y2":-321,"x":75,"x2":120,"v":78},{"y":-313,"y2":-321,"x":120,"x2":159,"v":81},
{"y":-321,"y2":-329,"x":-142,"x2":-90,"v":58},{"y":-321,"y2":-329,"x":-90,"x2":-50,"v":62},{"y":-321,"y2":-329,"x":-50,"x2":0,"v":68},{"y":-321,"y2":-329,"x":0,"x2":60,"v":70},{"y":-321,"y2":-329,"x":60,"x2":110,"v":80},{"y":-321,"y2":-329,"x":110,"x2":142,"v":84},
{"y":-329,"y2":-337,"x":-122,"x2":-60,"v":62},{"y":-329,"y2":-337,"x":-60,"x2":-10,"v":70},{"y":-329,"y2":-337,"x":-10,"x2":40,"v":72},{"y":-329,"y2":-337,"x":40,"x2":70,"v":77},{"y":-329,"y2":-337,"x":70,"x2":122,"v":85},
{"y":-337,"y2":-345,"x":-95,"x2":-40,"v":70},{"y":-337,"y2":-345,"x":-40,"x2":20,"v":74},{"y":-337,"y2":-345,"x":20,"x2":60,"v":78},{"y":-337,"y2":-345,"x":60,"x2":95,"v":84},
{"y":-345,"y2":-351,"x":-65,"x2":0,"v":75},{"y":-345,"y2":-351,"x":0,"x2":65,"v":79}
],
"rings":[{"r":117},{"r":234},{"r":273},{"r":312}],
"spokes":[{"x":-351,"x2":351,"y":0,"y2":0},{"x":0,"x2":0,"y":351,"y2":-351}],
"labels":[{"x":0,"y":370,"t":"N"},{"x":-371,"y":-1,"t":"E"},{"x":370,"y":0,"t":"W"},{"x":0,"y":-370,"t":"S"}]},
"layer":[
{"data":{"name":"cells"},"mark":{"type":"rect"},"encoding":{
"x":{"field":"x","type":"quantitative","scale":{"domain":[-399,401],"nice":false,"zero":false},"axis":null},"x2":{"field":"x2"},
"y":{"field":"y","type":"quantitative","scale":{"domain":[-400,400],"nice":false,"zero":false},"axis":null},"y2":{"field":"y2"},
"color":{"field":"v","type":"quantitative","scale":{"scheme":"magma","domain":[0,100]},"legend":null}}},
{"data":{"values":[{"r":351,"r2":372}]},"mark":{"type":"arc","theta":0,"theta2":6.2832,"color":"white"},"encoding":{
"x":{"datum":0,"type":"quantitative"},"y":{"datum":0,"type":"quantitative"},
"radius":{"field":"r2","type":"quantitative","stack":null,"scale":{"domain":[0,351],"range":[0,351]}},"radius2":{"field":"r"}}},
{"data":{"name":"spokes"},"mark":{"type":"rule","color":"#b0b0b0","strokeWidth":1.1},"encoding":{"x":{"field":"x","type":"quantitative"},"x2":{"field":"x2"},"y":{"field":"y","type":"quantitative"},"y2":{"field":"y2"}}},
{"data":{"name":"rings"},"mark":{"type":"arc","theta":0,"theta2":6.2832,"fill":null,"stroke":"#b0b0b0","strokeWidth":1.1},"encoding":{
"x":{"datum":0,"type":"quantitative"},"y":{"datum":0,"type":"quantitative"},
"radius":{"field":"r","type":"quantitative","stack":null}}},
{"data":{"values":[{"r":351}]},"mark":{"type":"arc","theta":0,"theta2":6.2832,"fill":null,"stroke":"black","strokeWidth":1.1},"encoding":{
"x":{"datum":0,"type":"quantitative"},"y":{"datum":0,"type":"quantitative"},
"radius":{"field":"r","type":"quantitative","stack":null}}},
{"data":{"name":"labels"},"mark":{"type":"text","font":"DejaVu Sans","fontSize":13.9,"color":"black","align":"center","baseline":"middle"},"encoding":{"x":{"field":"x","type":"quantitative"},"y":{"field":"y","type":"quantitative"},"text":{"field":"t"}}}
]}
